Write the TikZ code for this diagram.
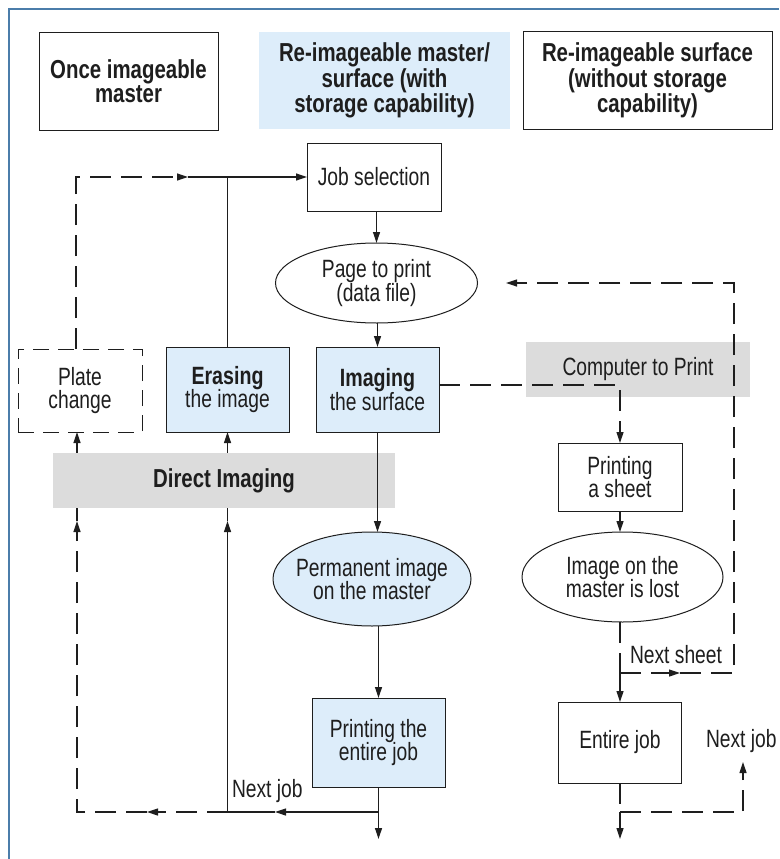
\documentclass[tikz,border=0pt]{standalone}
\usepackage{fontspec}
\setmainfont{Liberation Sans}[FakeStretch=0.77, BoldFeatures={FakeStretch=0.785}]
\usetikzlibrary{arrows.meta,shapes.geometric}
\definecolor{ink}{RGB}{30,30,30}
\definecolor{paleblue}{RGB}{221,237,250}
\definecolor{bandgray}{RGB}{220,220,220}
\definecolor{framecol}{RGB}{75,125,170}
\begin{document}
\begin{tikzpicture}[x=1pt,y=-1pt,
  every node/.style={inner sep=0pt, outer sep=0pt, text=ink, align=center,
    font=\fontsize{25}{23.5}\selectfont},
  box/.style={draw=ink, line width=1pt, rectangle},
  hdr/.style={font=\fontsize{26}{24}\selectfont\bfseries},
  oval/.style={draw=ink, line width=1pt, ellipse, inner xsep=-25pt, inner ysep=-10pt},
  tint/.style={fill=paleblue},
  band/.style={fill=bandgray},
  flow/.style={draw=ink, line width=1.2pt},
  arr/.style={flow, -{Triangle[length=11pt,width=7pt]}},
  dsh/.style={dash pattern=on 21pt off 10pt},
  dbox/.style={dash pattern=on 16pt off 9pt},
]
\useasboundingbox (0,0) rectangle (779,859);
\fill[white] (0,0) rectangle (779,859);
% frame
\draw[framecol, line width=1.5pt] (9,859) -- (9,9) -- (779,9);

% column headers
\node[box,hdr,minimum width=179pt,minimum height=97pt] (hA) at (128.5,81.5) {Once imageable\\master};
\node[tint,hdr,minimum width=251pt,minimum height=97pt] (hB) at (384.5,80.5) {Re-imageable master/\\surface (with\\storage capability)};
\node[box,hdr,minimum width=249pt,minimum height=97pt] (hC) at (647.5,80.5) {Re-imageable surface\\(without storage\\capability)};

% middle column
\node[box,minimum width=134pt,minimum height=68pt] (job) at (374,177) {Job selection};
\node[oval,minimum width=202pt,minimum height=80pt] (page) at (376.5,283) {Page to print\\(data file)};
\node[box,dbox,minimum width=124pt,minimum height=83pt] (plate) at (80,390.5) {Plate\\change};
\node[box,tint,minimum width=123pt,minimum height=85pt] (erase) at (227.5,389.5) {\textbf{Erasing}\\the image};
\node[box,tint,minimum width=123pt,minimum height=85pt] (imaging) at (377.5,389.5) {\textbf{Imaging}\\the surface};
\node[oval,tint,minimum width=198pt,minimum height=94pt] (perm) at (372,579) {Permanent image\\on the master};
\node[box,tint,minimum width=133pt,minimum height=89pt] (printAll) at (378.5,742.5) {Printing the\\entire job};

% right column
\node[band,minimum width=224pt,minimum height=55pt] (ctp) at (638,369.5) {Computer to Print};
\node[box,minimum width=124pt,minimum height=68pt] (sheet) at (620,477) {Printing\\a sheet};
\node[oval,minimum width=201pt,minimum height=90pt] (lost) at (622.5,577) {Image on the\\master is lost};
\node[box,minimum width=123pt,minimum height=81pt] (entire) at (620,742.5) {Entire job};

% junction points
\coordinate (tl) at (76,177);
\coordinate (tm) at (188,177);
\coordinate (bR) at (378.5,812);
\coordinate (bA1) at (275,812);
\coordinate (bE) at (227.5,812);
\coordinate (bA2) at (147,812);
\coordinate (bP) at (77,812);
\coordinate (mE) at (227.5,521);
\coordinate (mP) at (77,521);
\coordinate (outM) at (378.5,839);
\coordinate (cR) at (620,385);
\coordinate (sJ) at (620,673);
\coordinate (sA) at (680,673);
\coordinate (sC) at (734,673);
\coordinate (sT) at (734,283);
\coordinate (sEnd) at (506,283);
\coordinate (eJ) at (620,812);
\coordinate (eOut) at (620,839);
\coordinate (eC) at (743,812);
\coordinate (eUp) at (743,762);

% loop back to job selection
\draw[arr,dsh] (tl |- plate.north) -- (tl) -- (tm);
\draw[arr] (tm) -- (job.west);
\draw[flow] (erase.north) -- (erase.north |- tm);
\draw[arr] (job.south -| page) -- (page.north);
\draw[arr] (page.south -| imaging) -- (imaging.north);

% next job loop (left)
\draw[arr] (printAll.south) -- (outM);
\draw[arr] (bR) -- (bA1);
\draw[flow] (bA1) -- (bE);
\draw[arr] (bE) -- (mE);
\draw[arr] (mE) -- (erase.south);
\draw[arr,dsh] (bE) -- (bA2);
\draw[arr,dsh] (bA2) -- (bP) -- (mP);
\draw[arr,dsh] (mP) -- (plate.south -| mP);

\node[band,font=\fontsize{26}{24}\selectfont\bfseries,minimum width=342pt,minimum height=55pt] (di) at (224,480.5) {Direct Imaging};

\draw[arr] (imaging.south) -- (imaging.south |- perm.north);
\draw[arr] (perm.south -| printAll) -- (printAll.north);
\node[anchor=base west] (nj1) at (232,797) {Next job};

% computer to print path
\draw[arr,dsh] (imaging.east |- cR) -- (cR) -- (sheet.north);
\draw[arr] (sheet.south) -- (sheet.south |- lost.north);
\draw[flow,dsh] (lost.south -| sJ) -- (sJ);
\draw[arr,dsh] (sJ) -- (sA);
\draw[arr,dsh] (sA) -- (sC) -- (sT) -- (sEnd);
\draw[arr] (sJ) -- (entire.north);
\node[anchor=base west] (ns) at (630,663) {Next sheet};
\draw[flow,dsh] (entire.south) -- (eJ);
\draw[arr] (eJ) -- (eOut);
\draw[arr,dsh] (eJ) -- (eC) -- (eUp);
\node[anchor=base west] (nj2) at (706,747) {Next job};
\end{tikzpicture}
\end{document}
